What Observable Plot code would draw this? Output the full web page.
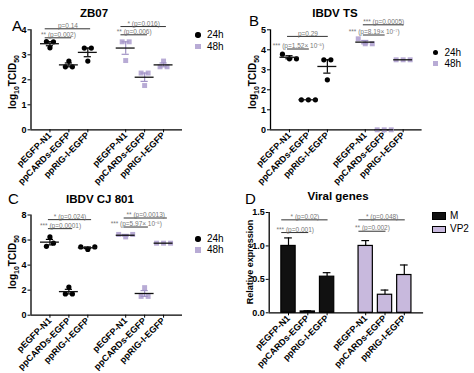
<!DOCTYPE html>
<html>
<head>
<meta charset="utf-8">
<script src="https://cdn.jsdelivr.net/npm/d3@7"></script>
<script src="https://cdn.jsdelivr.net/npm/@observablehq/plot@0.6"></script>
<style>
  body { margin: 0; background: #fff; }
  #fig { position: relative; width: 474px; height: 373px; overflow: hidden; background: #fff;
         font-family: Arial, "Liberation Sans", sans-serif; color: #000; }
  .abs { position: absolute; white-space: nowrap; line-height: 1; }
  .letter { font-size: 15px; }
  .title { font-size: 11.5px; font-weight: bold; transform: translate(-50%, -50%); }
  .ytitle { font-size: 10px; font-weight: bold; transform: translate(-50%, -50%) rotate(-90deg); }
  .ytitle span { font-size: 7px; position: relative; top: 2.5px; }
  .ytitle.small { font-size: 9px; }
  .legtxt { font-size: 10px; transform: translateY(-50%); }
</style>
</head>
<body>
<div id="fig"></div>
<script>
// ---------- data ----------
const categories = ["pEGFP-N1", "ppCARDs-EGFP", "ppRIG-I-EGFP"];
const times = ["24h", "48h"];
const genes = ["M", "VP2"];

// A: ZB07, log10 TCID50 replicates per category
const zb07_24h = [[3.53, 3.28, 3.52], [2.52, 2.75, 2.52], [3.27, 2.75, 3.27]];
const zb07_48h = [[3.52, 2.77, 3.52], [2.27, 1.77, 2.27], [2.52, 2.75, 2.52]];
const zb07_yticks = [0, 1, 2, 3, 4];
const zb07_sig = [["24h", 0, 2, 4.04, "", "p=0.14"], ["24h", 0, 1, 3.68, "**", "(p=0.002)"],
                  ["48h", 0, 2, 4.13, "*", "(p=0.016)"], ["48h", 0, 1, 3.80, "**", "(p=0.006)"]];

// B: IBDV TS
const ts_24h = [[3.78, 3.55, 3.55], [1.5, 1.5, 1.5], [3.5, 3.5, 2.5]];
const ts_48h = [[4.55, 4.3, 4.3], [0, 0, 0], [3.5, 3.5, 3.5]];
const ts_yticks = [0, 1, 2, 3, 4, 5];
const ts_sig = [["24h", 0, 2, 4.67, "", "p=0.29"], ["24h", 0, 1, 4.04, "***", "(p=1.52\u00d7 10\u207b\u2075)"],
                ["48h", 0, 2, 5.25, "***", "(p=0.0005)"], ["48h", 0, 1, 4.74, "***", "(p=8.19\u00d7 10\u207b\u2077)"]];

// C: IBDV CJ 801
const cj_24h = [[5.5, 6.25, 5.75], [1.7, 2.25, 1.7], [5.45, 5.25, 5.45]];
const cj_48h = [[6.45, 6.25, 6.45], [1.5, 2.2, 1.5], [5.75, 5.75, 5.75]];
const cj_yticks = [0, 2, 4, 6, 8];
const cj_sig = [["24h", 0, 2, 7.63, "*", "(p=0.024)"], ["24h", 0, 1, 6.91, "***", "(p=0.0001)"],
                ["48h", 0, 2, 7.76, "**", "(p=0.0013)"], ["48h", 0, 1, 7.04, "***", "(p=5.97\u00d7 10\u207b\u2075)"]];

// D: Viral genes, relative expression mean and SEM
const viral_M = [1.0, 0.02, 0.54];
const viral_M_sem = [0.12, 0.01, 0.06];
const viral_VP2 = [1.0, 0.27, 0.565];
const viral_VP2_sem = [0.08, 0.07, 0.15];
const viral_yticks = [0, 0.5, 1.0, 1.5];
const viral_sig = [["M", 0, 2, 1.39, "*", "(p=0.02)"], ["M", 0, 1, 1.20, "***", "(p=0.001)"],
                   ["VP2", 0, 2, 1.39, "*", "(p=0.048)"], ["VP2", 0, 1, 1.22, "**", "(p=0.002)"]];

// ---------- helpers ----------
const FONT = 'Arial, "Liberation Sans", sans-serif';
const LAV = "#b8abd5", LAV_DARK = "#a294c6", VP2_FILL = "#c8b9dd";
const fig = document.getElementById("fig");
const stride = categories.length + 1;
const pos = (g, c) => g * stride + c;
const tickPos = times.flatMap((t, g) => categories.map((c, ci) => pos(g, ci)));
const tickLabel = i => categories[i % stride];

function addDiv(cls, html, left, top) {
  const d = document.createElement("div");
  d.className = "abs " + cls;
  d.innerHTML = html;
  d.style.left = left + "px";
  d.style.top = top + "px";
  fig.appendChild(d);
  return d;
}

function sigMarks(sig, groupNames, pad) {
  const rows = sig.map(([g, a, b, y, stars, p]) => {
    const gi = groupNames.indexOf(g);
    const x1 = pos(gi, a) - pad[0], x2 = pos(gi, b) + pad[1];
    return {x1, x2, xm: (x1 + x2) / 2, y, label: (stars ? stars + " " : "") + p};
  });
  return [
    Plot.ruleY(rows, {y: "y", x1: "x1", x2: "x2", stroke: "#333", strokeWidth: 1}),
    Plot.text(rows, {x: "xm", y: "y", text: "label", lineAnchor: "bottom", dy: -0.8,
                     fontSize: 6.5, fill: "#777", ariaLabel: "sig"})
  ];
}

function styleSig(svg) {
  svg.querySelectorAll('g[aria-label="sig"] text').forEach(t => {
    const s = t.textContent;
    const m = s.match(/^(\*+)\s?(.*)$/);
    if (!m) return;
    t.textContent = "";
    const ns = "http://www.w3.org/2000/svg";
    const a = document.createElementNS(ns, "tspan");
    a.setAttribute("fill", "#222"); a.textContent = m[1] + " ";
    const b = document.createElementNS(ns, "tspan");
    b.textContent = m[2];
    t.appendChild(a); t.appendChild(b);
  });
}

function axes(yticks, yfmt) {
  return [
    Plot.axisX({ticks: tickPos, tickFormat: tickLabel, tickRotate: -45, tickSize: 3, tickPadding: 1,
                fontSize: 9, fontWeight: "bold", label: null}),
    Plot.axisY({ticks: yticks, tickFormat: yfmt, tickSize: 3, tickPadding: 1.5,
                fontSize: 9, fontWeight: "bold", label: null}),
    Plot.ruleX([-1], {stroke: "#000", strokeWidth: 1.3}),
    Plot.ruleY([0], {stroke: "#000", strokeWidth: 1.3})
  ];
}

function scatterPanel(cfg) {
  const h = cfg.height;
  const pxPerUnit = (h - cfg.mt - cfg.mb) / (cfg.yDomain[1] - cfg.yDomain[0]);
  const spread = 0.37;
  const points = [], stats = [];
  [cfg.r24, cfg.r48].forEach((reps, g) => {
    reps.forEach((vals, c) => {
      const x = pos(g, c);
      const mean = d3.mean(vals);
      const sem = d3.deviation(vals) / Math.sqrt(vals.length);
      stats.push({x, mean, lo: mean - sem, hi: mean + sem, time: times[g], sem});
      // simple swarm: cluster values whose dots would overlap, spread them horizontally
      const order = d3.range(vals.length).sort((i, j) => vals[j] - vals[i]);
      const clusters = [];
      order.forEach(i => {
        const last = clusters[clusters.length - 1];
        if (last && Math.abs(vals[last[last.length - 1]] - vals[i]) * pxPerUnit < 5.5) last.push(i);
        else clusters.push([i]);
      });
      clusters.forEach(cl => {
        cl.sort((i, j) => i - j);
        cl.forEach((i, k) => points.push({x: x + (k - (cl.length - 1) / 2) * spread, y: vals[i], time: times[g]}));
      });
    });
  });
  const p24 = points.filter(d => d.time === "24h"), p48 = points.filter(d => d.time === "48h");
  const s24 = stats.filter(d => d.time === "24h"), s48 = stats.filter(d => d.time === "48h");
  const errMarks = (s, col) => [
    Plot.ruleX(s.filter(d => d.sem > 0), {x: "x", y1: "lo", y2: "hi", stroke: col, strokeWidth: 1.2}),
    Plot.ruleY(s.filter(d => d.sem > 0), {y: "hi", x1: d => d.x - 0.19, x2: d => d.x + 0.19, stroke: col, strokeWidth: 1.2}),
    Plot.ruleY(s.filter(d => d.sem > 0), {y: "lo", x1: d => d.x - 0.19, x2: d => d.x + 0.19, stroke: col, strokeWidth: 1.2})
  ];
  const svg = Plot.plot({
    width: 237, height: h,
    marginLeft: cfg.ml, marginRight: cfg.mr, marginTop: cfg.mt, marginBottom: cfg.mb,
    style: {fontFamily: FONT, background: "transparent", overflow: "visible"},
    x: {type: "linear", domain: [-1, 2 * stride - 1]},
    y: {domain: cfg.yDomain},
    marks: [
      ...axes(cfg.yticks, d => d),
      Plot.dot(p24, {x: "x", y: "y", r: 2.6, fill: "#000", symbol: "circle"}),
      Plot.dot(p48, {x: "x", y: "y", r: 2.8, fill: LAV, symbol: "square"}),
      ...errMarks(s24, "#000"),
      ...errMarks(s48, LAV_DARK),
      Plot.ruleY(stats, {y: "mean", x1: d => d.x - 0.5, x2: d => d.x + 0.5, stroke: "#111", strokeWidth: 1.3}),
      ...sigMarks(cfg.sig, times, cfg.pad)
    ]
  });
  styleSig(svg);
  svg.style.position = "absolute";
  svg.style.left = cfg.left + "px";
  svg.style.top = cfg.top + "px";
  fig.appendChild(svg);
}

function barPanel(cfg) {
  const rows = [];
  [[viral_M, viral_M_sem], [viral_VP2, viral_VP2_sem]].forEach(([vals, sems], g) => {
    vals.forEach((v, c) => rows.push({x: pos(g, c), v, hi: v + sems[c], gene: genes[g]}));
  });
  const bw = 0.37;
  const svg = Plot.plot({
    width: 237, height: cfg.height,
    marginLeft: cfg.ml, marginRight: cfg.mr, marginTop: cfg.mt, marginBottom: cfg.mb,
    style: {fontFamily: FONT, background: "transparent", overflow: "visible"},
    x: {type: "linear", domain: [-1, 2 * stride - 1]},
    y: {domain: [0, 1.5]},
    color: {domain: genes, range: ["#111", VP2_FILL]},
    marks: [
      Plot.ruleX(rows, {x: "x", y1: "v", y2: "hi", stroke: "#000", strokeWidth: 1.2}),
      Plot.ruleY(rows, {y: "hi", x1: d => d.x - 0.2, x2: d => d.x + 0.2, stroke: "#000", strokeWidth: 1.2}),
      Plot.rectY(rows, {x1: d => d.x - bw, x2: d => d.x + bw, y: "v", fill: "gene", stroke: "#000", strokeWidth: 1.2}),
      ...axes(viral_yticks, d => d.toFixed(1)),
      ...sigMarks(viral_sig, genes, cfg.pad)
    ]
  });
  styleSig(svg);
  svg.style.position = "absolute";
  svg.style.left = cfg.left + "px";
  svg.style.top = cfg.top + "px";
  fig.appendChild(svg);
}

// ---------- panels ----------
scatterPanel({left: 0, top: 0, height: 186, ml: 30.5, mr: 55, mt: 29.3, mb: 56.7,
              yDomain: [0, 4], yticks: zb07_yticks, r24: zb07_24h, r48: zb07_48h, sig: zb07_sig, pad: [0.25, 0.15]});
scatterPanel({left: 237, top: 0, height: 186, ml: 33, mr: 52.4, mt: 29.3, mb: 56.7,
              yDomain: [0, 5], yticks: ts_yticks, r24: ts_24h, r48: ts_48h, sig: ts_sig, pad: [0.1, 0.05]});
scatterPanel({left: 0, top: 186, height: 187, ml: 30.5, mr: 55, mt: 28.5, mb: 58.3,
              yDomain: [0, 8], yticks: cj_yticks, r24: cj_24h, r48: cj_48h, sig: cj_sig, pad: [0.08, 0.2]});
barPanel({left: 237, top: 186, height: 187, ml: 31.7, mr: 50.9, mt: 26, mb: 60.7, pad: [0.35, 0.05]});

// ---------- titles, letters, axis titles ----------
addDiv("letter", "A", 12, 18);
addDiv("letter", "B", 249, 13);
addDiv("letter", "C", 8, 191);
addDiv("letter", "D", 245, 191);
addDiv("title", "ZB07", 94, 14);
addDiv("title", "IBDV TS", 335, 14);
addDiv("title", "IBDV CJ 801", 100, 200);
addDiv("title", "Viral genes", 338, 197);
const logLabel = "log<span>10</span>TCID<span>50</span>";
addDiv("ytitle", logLabel, 13, 82);
addDiv("ytitle", logLabel, 253, 82);
addDiv("ytitle", logLabel, 13, 262);
addDiv("ytitle small", "Relative expression", 250, 262);

// ---------- legends ----------
function timeLegend(x, y0, y1) {
  [y0, y1].forEach((y, i) => {
    const sw = document.createElement("div");
    sw.className = "abs";
    sw.style.left = (x - 2.7) + "px"; sw.style.top = (y - 2.7) + "px";
    sw.style.width = "5.4px"; sw.style.height = "5.4px";
    sw.style.background = i === 0 ? "#000" : LAV;
    sw.style.borderRadius = i === 0 ? "50%" : "0";
    fig.appendChild(sw);
    addDiv("legtxt", times[i], x + 9, y);
  });
}
timeLegend(198, 35, 46.5);
timeLegend(435.5, 52.5, 63.5);
timeLegend(198, 239, 250);
genes.forEach((g, i) => {
  const y = i === 0 ? 212 : 225.5;
  const sw = document.createElement("div");
  sw.className = "abs";
  sw.style.left = "432px"; sw.style.top = y + "px";
  sw.style.width = "11.5px"; sw.style.height = "5.5px";
  sw.style.background = i === 0 ? "#111" : VP2_FILL;
  sw.style.border = "1px solid #000";
  fig.appendChild(sw);
  addDiv("legtxt", g, 450, y + 3.7);
});
</script>
</body>
</html>
